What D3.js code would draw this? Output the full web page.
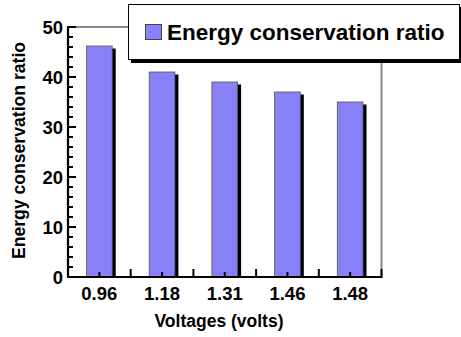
<!DOCTYPE html>
<html><head><meta charset="utf-8">
<script src="https://cdn.jsdelivr.net/npm/d3@7"></script>
<style>body{margin:0;background:#fff}svg{display:block}text{font-family:Arial,"Liberation Sans",sans-serif;font-weight:bold}</style>
</head><body><svg id="c" width="461" height="337"></svg>
<script>
const categories = ["0.96","1.18","1.31","1.46","1.48"];
const values = [46.2, 41, 39, 37, 35];
const yTicks = [0,10,20,30,40,50];
const seriesName = "Energy conservation ratio";
const xTitle = "Voltages (volts)";
const yTitle = "Energy conservation ratio";

const svg = d3.select("#c");
const L=68, R=381.5, T=27, B=277;
const x = d3.scaleBand().domain(categories).range([L,R]).paddingInner(0).paddingOuter(0);
const y = d3.scaleLinear().domain([0,50]).range([B,T]);
const barW = x.bandwidth()*0.41;
const fill = "#8880f8";

// frame top & right (gray)
svg.append("path").attr("d",`M${L},${T}H${R}V${B}`).attr("fill","none").attr("stroke","#888").attr("stroke-width",2);

// bars with shadow
const g = svg.append("g");
categories.forEach((c,i)=>{
  const cx = x(c)+x.bandwidth()/2;
  g.append("rect").attr("x",cx-barW/2+3.5).attr("y",y(values[i])+2.5).attr("width",barW).attr("height",B-y(values[i])-2.5).attr("fill","#000");
  g.append("rect").attr("x",cx-barW/2).attr("y",y(values[i])).attr("width",barW).attr("height",B-y(values[i])).attr("fill",fill).attr("stroke","#555").attr("stroke-width",0.8);
});

// y axis
const ya = svg.append("g");
ya.append("line").attr("x1",L).attr("x2",L).attr("y1",T-1).attr("y2",B+1).attr("stroke","#000").attr("stroke-width",2.2);
d3.range(0,51,2).forEach(v=>{
  const major = v%10===0;
  ya.append("line").attr("x1",L).attr("x2",L+(major?8:5)).attr("y1",y(v)).attr("y2",y(v)).attr("stroke","#000").attr("stroke-width",2);
});
yTicks.forEach(v=>{
  ya.append("text").attr("x",L-5).attr("y",y(v)).attr("dy","0.36em").attr("text-anchor","end").attr("font-size",18.5).text(v);
});

// x axis
const xa = svg.append("g");
xa.append("line").attr("x1",L-1).attr("x2",R+1).attr("y1",B).attr("y2",B).attr("stroke","#000").attr("stroke-width",2.2);
categories.forEach((c,i)=>{
  const cx = x(c)+x.bandwidth()/2;
  xa.append("line").attr("x1",cx).attr("x2",cx).attr("y1",B).attr("y2",B-5).attr("stroke","#000").attr("stroke-width",2);
  xa.append("line").attr("x1",x(c)+x.bandwidth()).attr("x2",x(c)+x.bandwidth()).attr("y1",B).attr("y2",B-8).attr("stroke","#000").attr("stroke-width",2);
  xa.append("text").attr("x",cx).attr("y",300).attr("text-anchor","middle").attr("font-size",18.5).text(c);
});

// axis titles
svg.append("text").attr("x",219).attr("y",327).attr("text-anchor","middle").attr("font-size",17.5).text(xTitle);
svg.append("text").attr("transform","translate(24.5,150.5) rotate(-90)").attr("text-anchor","middle").attr("font-size",17.6).text(yTitle);

// legend
const lg = svg.append("g");
lg.append("rect").attr("x",131).attr("y",7).attr("width",335).attr("height",56).attr("fill","#000");
lg.append("rect").attr("x",128.5).attr("y",4.5).attr("width",331).attr("height",55).attr("fill","#fff").attr("stroke","#000").attr("stroke-width",1);
lg.append("rect").attr("x",145.5).attr("y",24.5).attr("width",16).attr("height",15).attr("fill",fill).attr("stroke","#444").attr("stroke-width",1);
lg.append("text").attr("x",167).attr("y",39.5).attr("font-size",22.5).text(seriesName);
</script></body></html>
